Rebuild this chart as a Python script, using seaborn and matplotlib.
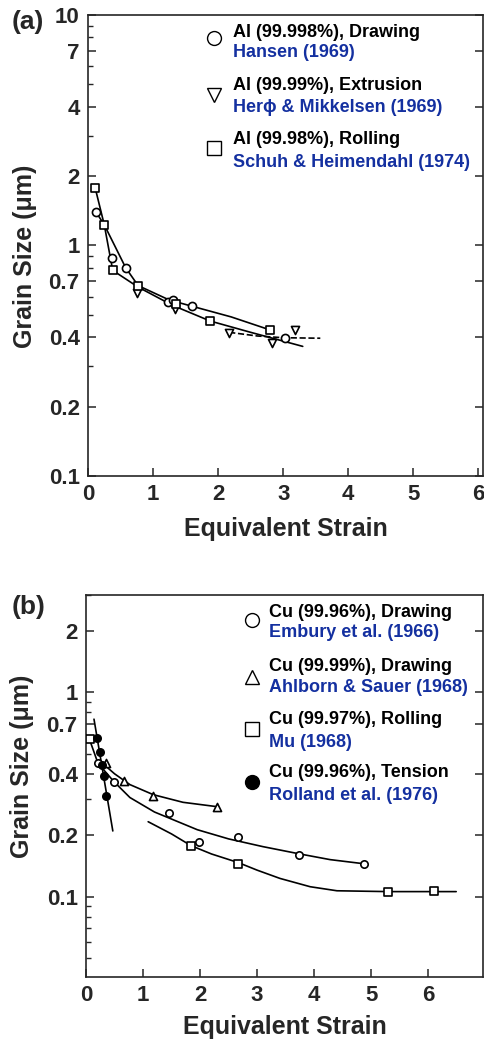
import numpy as np
import pandas as pd
import matplotlib
matplotlib.use("Agg")
import matplotlib.pyplot as plt
from matplotlib.ticker import FixedLocator, FixedFormatter, LogLocator, NullFormatter
import seaborn as sns

# ==========================================
# Data
# ==========================================
# (a) Aluminium
al_draw_x = [0.12, 0.37, 0.58, 1.23, 1.31, 1.60, 3.03]
al_draw_y = [1.40, 0.88, 0.80, 0.57, 0.58, 0.545, 0.396]
al_ext_x = [0.75, 1.34, 2.17, 2.83, 3.18]
al_ext_y = [0.62, 0.53, 0.416, 0.377, 0.43]
al_roll_x = [0.11, 0.25, 0.38, 0.77, 1.35, 1.88, 2.80]
al_roll_y = [1.78, 1.23, 0.78, 0.67, 0.555, 0.47, 0.43]

# fitted curves (a)
al_fit1_x = [0.11, 0.25, 0.38, 0.77, 1.30, 1.88, 2.50, 3.30]
al_fit1_y = [1.78, 1.23, 0.78, 0.66, 0.55, 0.47, 0.42, 0.365]
al_fit2_x = [0.12, 0.25, 0.58, 0.77, 1.25, 1.60, 2.20, 2.80]
al_fit2_y = [1.40, 1.23, 0.80, 0.67, 0.58, 0.545, 0.49, 0.43]
al_fit3_x = [2.17, 2.60, 3.00, 3.57]
al_fit3_y = [0.42, 0.405, 0.398, 0.396]

# (b) Copper
cu_draw_x = [0.21, 0.49, 1.46, 1.98, 2.67, 3.74, 4.88]
cu_draw_y = [0.45, 0.366, 0.258, 0.186, 0.197, 0.16, 0.145]
cu_draw2_x = [0.35, 0.67, 1.18, 2.30]
cu_draw2_y = [0.45, 0.37, 0.313, 0.276]
cu_roll_x = [0.07, 1.84, 2.67, 5.30, 6.10]
cu_roll_y = [0.59, 0.178, 0.145, 0.106, 0.107]
cu_tens_x = [0.19, 0.25, 0.28, 0.32, 0.35]
cu_tens_y = [0.60, 0.51, 0.44, 0.39, 0.31]

# fitted curves (b)
cu_fit1_x = [0.07, 0.21, 0.49, 0.77, 1.20, 1.95, 2.50, 3.10, 3.75, 4.28, 4.88]
cu_fit1_y = [0.58, 0.45, 0.366, 0.306, 0.26, 0.213, 0.192, 0.176, 0.162, 0.152, 0.145]
cu_fit2_x = [0.33, 0.50, 0.77, 1.18, 1.70, 2.30]
cu_fit2_y = [0.44, 0.40, 0.354, 0.316, 0.29, 0.276]
cu_fit3_x = [1.09, 1.50, 1.84, 2.20, 2.67, 3.00, 3.40, 3.93, 4.40, 5.30, 6.10, 6.49]
cu_fit3_y = [0.233, 0.203, 0.178, 0.162, 0.147, 0.135, 0.123, 0.112, 0.107, 0.106, 0.106, 0.106]
cu_fit4_x = [0.14, 0.47]
cu_fit4_y = [0.74, 0.21]

a_ticks = [0.1, 0.2, 0.4, 0.7, 1, 2, 4, 7, 10]
a_ticklabels = ["0.1", "0.2", "0.4", "0.7", "1", "2", "4", "7", "10"]
b_ticks = [0.1, 0.2, 0.4, 0.7, 1, 2]
b_ticklabels = ["0.1", "0.2", "0.4", "0.7", "1", "2"]

a_legend = [("o", "Al (99.998%), Drawing", "Hansen (1969)"),
            ("v", "Al (99.99%), Extrusion", "Her\u03d5 & Mikkelsen (1969)"),
            ("s", "Al (99.98%), Rolling", "Schuh & Heimendahl (1974)")]
b_legend = [("o", "Cu (99.96%), Drawing", "Embury et al. (1966)", "white"),
            ("^", "Cu (99.99%), Drawing", "Ahlborn & Sauer (1968)", "white"),
            ("s", "Cu (99.97%), Rolling", "Mu (1968)", "white"),
            ("o", "Cu (99.96%), Tension", "Rolland et al. (1976)", "black")]

BLUE = "#1430a0"

# ==========================================
# Style
# ==========================================
sns.set_style("ticks")
plt.rcParams["font.family"] = ["Liberation Sans", "DejaVu Sans"]
plt.rcParams["font.weight"] = "bold"
plt.rcParams["axes.linewidth"] = 1.2

fig = plt.figure(figsize=(4.84, 10.42), dpi=100)
ax_a = fig.add_axes([0.1818, 0.5432, 0.8161, 0.4424])
ax_b = fig.add_axes([0.1777, 0.0624, 0.8202, 0.3666])


def scatter(ax, x, y, marker, face="white", s=34):
	sns.scatterplot(x=x, y=y, marker=marker, s=s, facecolor=face, edgecolor="black",
	                linewidth=1.2, ax=ax, zorder=3, legend=False)


def curve(ax, x, y, ls="-"):
	sns.lineplot(x=x, y=y, color="black", lw=1.2, linestyle=ls, sort=False,
	             estimator=None, ax=ax, zorder=2, legend=False)


def style_axis(ax, xlim, ylim, ticks, labels, ylab_y, xlab_y):
	ax.set_yscale("log")
	ax.set_xlim(*xlim)
	ax.set_ylim(*ylim)
	ax.xaxis.set_major_locator(FixedLocator(range(0, int(xlim[1]) + 1)))
	ax.yaxis.set_major_locator(FixedLocator(ticks))
	ax.yaxis.set_major_formatter(FixedFormatter(labels))
	ax.yaxis.set_minor_locator(LogLocator(base=10, subs=np.arange(2, 10)))
	ax.yaxis.set_minor_formatter(NullFormatter())
	ax.tick_params(axis="both", which="major", direction="in", length=6, width=1.1,
	               labelsize=16, pad=6)
	ax.tick_params(axis="y", which="major", right=True)
	ax.tick_params(axis="y", which="minor", direction="in", length=3.5, width=1.0)
	for lab in ax.get_xticklabels() + ax.get_yticklabels():
		lab.set_fontweight("bold")
	ax.set_xlabel("Equivalent Strain", fontsize=18, fontweight="bold", va="center")
	ax.set_ylabel("Grain Size (\u03bcm)", fontsize=18, fontweight="bold", va="center")
	ax.xaxis.set_label_coords(0.5, xlab_y)
	ax.yaxis.set_label_coords(-0.16, ylab_y)


# ==========================================
# (a) Aluminium
# ==========================================
curve(ax_a, al_fit1_x, al_fit1_y)
curve(ax_a, al_fit2_x, al_fit2_y)
curve(ax_a, al_fit3_x, al_fit3_y, ls="--")
scatter(ax_a, al_draw_x, al_draw_y, "o")
scatter(ax_a, al_ext_x, al_ext_y, "v")
scatter(ax_a, al_roll_x, al_roll_y, "s", s=30)
style_axis(ax_a, (0, 6.07), (0.1, 10), a_ticks, a_ticklabels, 0.477, -0.115)

a_rows = [(0.950, 0.963, 0.918), (0.826, 0.846, 0.800), (0.711, 0.729, 0.681)]
for (mk, l1, l2), (ym, y1, y2) in zip(a_legend, a_rows):
	ax_a.plot(0.319, ym, marker=mk, ms=10, mfc="white", mec="black", mew=1.0,
	          transform=ax_a.transAxes, ls="none")
	ax_a.text(0.367, y1, l1, transform=ax_a.transAxes, fontsize=13, fontweight="bold",
	          va="center", ha="left", color="black")
	ax_a.text(0.367, y2, l2, transform=ax_a.transAxes, fontsize=13, fontweight="bold",
	          va="center", ha="left", color=BLUE)

# ==========================================
# (b) Copper
# ==========================================
curve(ax_b, cu_fit1_x, cu_fit1_y)
curve(ax_b, cu_fit2_x, cu_fit2_y)
curve(ax_b, cu_fit3_x, cu_fit3_y)
curve(ax_b, cu_fit4_x, cu_fit4_y)
scatter(ax_b, cu_draw_x, cu_draw_y, "o", s=28)
scatter(ax_b, cu_draw2_x, cu_draw2_y, "^", s=34)
scatter(ax_b, cu_roll_x, cu_roll_y, "s", s=26)
scatter(ax_b, cu_tens_x, cu_tens_y, "o", face="black", s=28)
style_axis(ax_b, (0, 6.96), (0.0405, 3), b_ticks, b_ticklabels, 0.552, -0.131)

b_rows = [(0.935, 0.955, 0.901), (0.785, 0.812, 0.757),
          (0.649, 0.673, 0.615), (0.510, 0.534, 0.476)]
for (mk, l1, l2, fc), (ym, y1, y2) in zip(b_legend, b_rows):
	ax_b.plot(0.418, ym, marker=mk, ms=10, mfc=fc, mec="black", mew=1.0,
	          transform=ax_b.transAxes, ls="none")
	ax_b.text(0.461, y1, l1, transform=ax_b.transAxes, fontsize=13, fontweight="bold",
	          va="center", ha="left", color="black")
	ax_b.text(0.461, y2, l2, transform=ax_b.transAxes, fontsize=13, fontweight="bold",
	          va="center", ha="left", color=BLUE)

fig.text(0.058, 0.979, "(a)", fontsize=19, fontweight="bold", ha="center", va="center")
fig.text(0.058, 0.417, "(b)", fontsize=19, fontweight="bold", ha="center", va="center")

fig.savefig("out.png", dpi=100)
